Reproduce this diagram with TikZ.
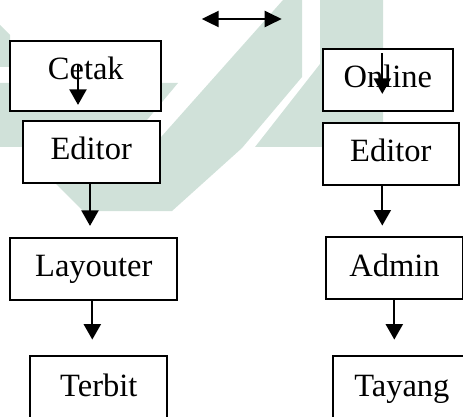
\documentclass[tikz,border=0pt]{standalone}
\usepackage{fontspec}
\setmainfont{Liberation Serif}
\usetikzlibrary{arrows.meta}
\definecolor{wm}{RGB}{208,225,217}
\begin{document}
\begin{tikzpicture}[x=1pt,y=1pt,
  box/.style={draw=black, line width=2.2pt, fill=white, inner sep=0pt,
    font=\fontsize{32.5}{38}\selectfont, text height=22pt, text depth=6pt,
    minimum height=62pt},
  arr/.style={line width=2.2pt, -{Triangle[length=15.5pt,width=17pt]}},
  dbl/.style={line width=2.2pt, {Triangle[length=17pt,width=16pt]}-{Triangle[length=17pt,width=16pt]}},
  wmark/.style={fill=wm, draw=none}]
\useasboundingbox (0,0) rectangle (463,-417);
\clip (0,0) rectangle (463,-417);
% watermark
\fill[wmark] (283,0) -- (302,0) -- (302,-77) -- (242,-148) -- (172,-211) -- (83,-211) -- (52,-180) -- (149.5,-150) -- cycle;
\fill[wmark] (0,-83) -- (178,-83) -- (147,-120) -- (100,-147) -- (0,-147) -- cycle;
\fill[wmark] (0,-25) -- (10,-35) -- (10,-67) -- (0,-67) -- cycle;
\fill[wmark] (320,0) -- (383,0) -- (383,-147) -- (255,-147) -- (320,-64) -- cycle;
% left column
\node[box, minimum width=151pt, minimum height=69.7pt, text height=20pt, text depth=11.7pt] (cetak) at (85.8,-75.85) {Cetak};
\node[box, minimum width=137pt] (edL) at (91.2,-152) {Editor};
\node[box, minimum width=167pt, minimum height=62.3pt] (layout) at (93.8,-268.85) {Layouter};
\node[box, minimum width=137pt, minimum height=64pt] (terbit) at (98.8,-388) {Terbit};
% right column
\node[box, minimum width=130.3pt] (online) at (387.85,-79.7) {Online};
\node[box, minimum width=136.3pt] (edR) at (390.85,-153.7) {Editor};
\node[box, minimum width=137pt] (admin) at (394.5,-268) {Admin};
\node[box, minimum width=138.3pt, minimum height=64pt] (tayang) at (401.85,-388) {Tayang};
% connectors
\draw[arr] ([shift={(-7.8pt,10.85pt)}]cetak.center) -- ([shift={(-13.2pt,15pt)}]edL.north);
\draw[arr, shorten >=10.7pt] ([xshift=-1.2pt]edL.south) -- ([xshift=-1.2pt]edL.south |- layout.north);
\draw[arr, shorten >=15.3pt] ([xshift=-1.5pt]layout.south) -- ([xshift=-1.5pt]layout.south |- terbit.north);
\draw[arr] ([shift={(-5.55pt,-5.6pt)}]online.north) -- ([shift={(-8.55pt,27.7pt)}]edR.north);
\draw[arr, shorten >=10.3pt] ([xshift=-8.55pt]edR.south) -- ([xshift=-8.55pt]edR.south |- admin.north);
\draw[arr, shorten >=15.3pt] ([xshift=-0.2pt]admin.south) -- ([xshift=-0.2pt]admin.south |- tayang.north);
\coordinate (dl) at (201.7,-19);
\coordinate (dr) at (281.7,-19);
\draw[dbl] (dl) -- (dr);
\end{tikzpicture}
\end{document}
